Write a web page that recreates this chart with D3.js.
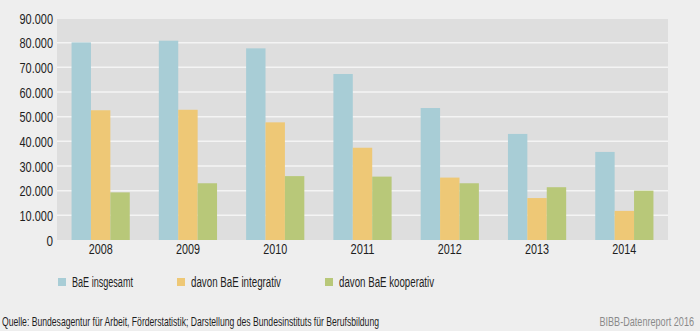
<!DOCTYPE html>
<html><head><meta charset="utf-8">
<script src="https://cdn.jsdelivr.net/npm/d3@7"></script>
<style>
body{margin:0;background:#eeeeee;}
svg{display:block;}
text{font-family:"Liberation Sans",Arial,sans-serif;}
</style></head><body>
<svg id="c" width="700" height="331"></svg>
<script>
const years = ["2008","2009","2010","2011","2012","2013","2014"];
const seriesNames = ["BaE insgesamt","davon BaE integrativ","davon BaE kooperativ"];
const insgesamt = [80100,80800,77700,67300,53500,43000,35700];
const integrativ = [52600,52800,47700,37400,25300,17000,11800];
const kooperativ = [19300,23000,25900,25700,23000,21400,20000];
const yTicks = [0,10000,20000,30000,40000,50000,60000,70000,80000,90000];
const colors = ["#a8cdd6","#eec876","#b8c879"];

const svg = d3.select("#c");
const W=700,H=331;
svg.append("rect").attr("width",W).attr("height",H).attr("fill","#eeeeee");
const m={l:57,r:32,t:18,b:91};
const x = d3.scaleBand().domain(years).range([m.l,W-m.r]).paddingInner(0.333).paddingOuter(0.1667);
const xs = d3.scaleBand().domain(seriesNames).range([0,x.bandwidth()]);
const y = d3.scaleLinear().domain([0,90000]).range([240,m.t]);
const fmt = v=>d3.format(",")(v).replace(/,/g,".");

svg.append("rect").attr("x",m.l).attr("y",y(90000)+1).attr("width",W-m.r-m.l).attr("height",240-y(90000)-1).attr("fill","#dedede");
svg.append("g").selectAll("line").data(yTicks.filter(d=>d>0&&d<90000)).join("line")
  .attr("x1",m.l).attr("x2",W-m.r).attr("y1",d=>y(d)).attr("y2",d=>y(d))
  .attr("stroke","#f4f4f4").attr("stroke-width",1.5);

const data = [insgesamt,integrativ,kooperativ];
const g = svg.append("g");
years.forEach((yr,i)=>{
  seriesNames.forEach((s,j)=>{
    g.append("rect").attr("x",x(yr)+xs(s)).attr("width",xs.bandwidth())
     .attr("y",y(data[j][i])).attr("height",240-y(data[j][i])).attr("fill",colors[j]);
  });
});

const ya = d3.axisLeft(y).tickValues(yTicks).tickFormat(fmt).tickSize(0).tickPadding(4);
const yg = svg.append("g").attr("transform",`translate(${m.l},0)`).call(ya);
yg.select(".domain").remove();
yg.selectAll("text").attr("font-size",14).attr("fill","#1e1e1e").attr("dy","0.38em")
  .attr("lengthAdjust","spacingAndGlyphs")
  .attr("textLength",function(d){ const s=fmt(d); return d===0?6.5:(s.length-1)*6.1+3; });

const xa = d3.axisBottom(x).tickSize(0).tickPadding(4);
const xg = svg.append("g").attr("transform","translate(0,240)").call(xa);
xg.select(".domain").remove();
xg.selectAll("text").attr("font-size",14).attr("fill","#1e1e1e")
  .attr("lengthAdjust","spacingAndGlyphs").attr("textLength",24);

const legX=[58,177,325];
const legLen=[61,90,95];
seriesNames.forEach((s,j)=>{
  svg.append("rect").attr("x",legX[j]).attr("y",278).attr("width",8).attr("height",8).attr("fill",colors[j]);
  svg.append("text").attr("x",legX[j]+14).attr("y",282).attr("dy","0.35em").attr("font-size",14).attr("fill","#1e1e1e")
    .attr("lengthAdjust","spacingAndGlyphs").attr("textLength",legLen[j]).text(s);
});
svg.append("text").attr("x",2).attr("y",321.5).attr("dy","0.35em").attr("font-size",13).attr("fill","#1e1e1e")
  .attr("lengthAdjust","spacingAndGlyphs").attr("textLength",377)
  .text("Quelle: Bundesagentur für Arbeit, Förderstatistik; Darstellung des Bundesinstituts für Berufsbildung");
const src = svg.append("g").attr("transform","translate(694,321.5) scale(0.7,1)");
src.append("text").attr("x",0).attr("y",0).attr("dy","0.35em").attr("text-anchor","end").attr("font-size",13).attr("fill","#8a8a8a")
  .text("BIBB-Datenreport 2016");
</script></body></html>
